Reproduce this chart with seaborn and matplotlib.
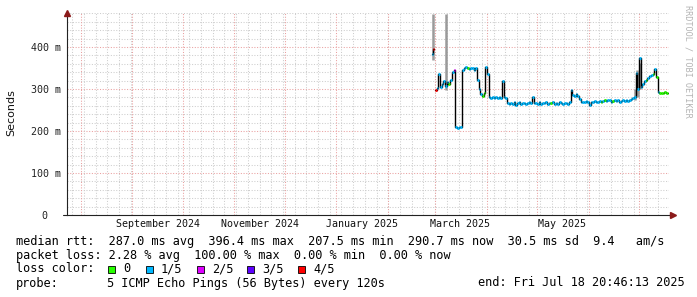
import numpy as np
import pandas as pd
import matplotlib
matplotlib.use("Agg")
import matplotlib.pyplot as plt
import matplotlib.dates as mdates
import seaborn as sns

# ---------------- data ----------------
dates = [
    "2025-02-27 00:00", "2025-02-27 16:00", "2025-02-28 08:00",
    "2025-03-01", "2025-03-02", "2025-03-03", "2025-03-04", "2025-03-05", "2025-03-06",
    "2025-03-07", "2025-03-08", "2025-03-09", "2025-03-10", "2025-03-11", "2025-03-12",
    "2025-03-13", "2025-03-14", "2025-03-15", "2025-03-16", "2025-03-17", "2025-03-18",
    "2025-03-19", "2025-03-20", "2025-03-21", "2025-03-22", "2025-03-23", "2025-03-24",
    "2025-03-25", "2025-03-26", "2025-03-27", "2025-03-28", "2025-03-29", "2025-03-30",
    "2025-03-31", "2025-04-01", "2025-04-02", "2025-04-03", "2025-04-04", "2025-04-05",
    "2025-04-06", "2025-04-07", "2025-04-08", "2025-04-09", "2025-04-10", "2025-04-11",
    "2025-04-12", "2025-04-13", "2025-04-14", "2025-04-15", "2025-04-16", "2025-04-17",
    "2025-04-18", "2025-04-19", "2025-04-20", "2025-04-21", "2025-04-22", "2025-04-23",
    "2025-04-24", "2025-04-25", "2025-04-26", "2025-04-27", "2025-04-28", "2025-04-29",
    "2025-04-30", "2025-05-01", "2025-05-02", "2025-05-03", "2025-05-04", "2025-05-05",
    "2025-05-06", "2025-05-07", "2025-05-08", "2025-05-09", "2025-05-10", "2025-05-11",
    "2025-05-12", "2025-05-13", "2025-05-14", "2025-05-15", "2025-05-16", "2025-05-17",
    "2025-05-18", "2025-05-19", "2025-05-20", "2025-05-21", "2025-05-22", "2025-05-23",
    "2025-05-24", "2025-05-25", "2025-05-26", "2025-05-27", "2025-05-28", "2025-05-29",
    "2025-05-30", "2025-05-31", "2025-06-01", "2025-06-02", "2025-06-03", "2025-06-04",
    "2025-06-05", "2025-06-06", "2025-06-07", "2025-06-08", "2025-06-09", "2025-06-10",
    "2025-06-11", "2025-06-12", "2025-06-13", "2025-06-14", "2025-06-15", "2025-06-16",
    "2025-06-17", "2025-06-18", "2025-06-19", "2025-06-20", "2025-06-21", "2025-06-22",
    "2025-06-23", "2025-06-24", "2025-06-25", "2025-06-26", "2025-06-27", "2025-06-28",
    "2025-06-29", "2025-06-30", "2025-07-01", "2025-07-02", "2025-07-03", "2025-07-04",
    "2025-07-05", "2025-07-06", "2025-07-07", "2025-07-08", "2025-07-09", "2025-07-10",
    "2025-07-11", "2025-07-12", "2025-07-13", "2025-07-14", "2025-07-15", "2025-07-16",
    "2025-07-17", "2025-07-18 12:00",
]
median_ms = [
    383, 395, 395,
    298, 302, 336, 305, 312, 318,
    308, 316, 312, 322, 340, 345,
    209, 207.5, 209, 210, 345, 349,
    352, 350, 347, 351, 349, 346,
    349, 322, 300, 288, 283, 290,
    352, 335, 282, 279, 280, 278,
    280, 279, 281, 278, 318, 280,
    279, 266, 264, 267, 265, 268,
    263, 266, 268, 265, 267, 266,
    264, 267, 268, 266, 281, 266,
    267, 265, 268, 264, 267, 266,
    268, 265, 267, 266, 268, 264,
    267, 265, 268, 266, 264, 267,
    266, 265, 268, 298, 286, 284,
    288, 283, 276, 269, 270, 268,
    271, 269, 262, 270, 268, 271,
    270, 269, 272, 270, 272, 274,
    271, 273, 275, 270, 272, 274,
    271, 273, 270, 272, 274, 271,
    273, 272, 275, 276, 279, 282,
    338, 300, 373, 305, 312, 318,
    322, 326, 330, 333, 335, 347,
    328, 292, 291, 290, 291, 292,
    291, 290,
]
loss = [
    1, 4, 4,
    4, 1, 1, 1, 1, 1,
    1, 1, 0, 1, 1, 2,
    1, 1, 1, 1, 1, 1,
    1, 0, 1, 1, 1, 1,
    1, 1, 1, 1, 0, 0,
    1, 1, 1, 1, 1, 1,
    1, 1, 1, 1, 1, 1,
    1, 1, 1, 1, 1, 1,
    1, 1, 1, 1, 1, 1,
    1, 1, 1, 1, 1, 1,
    1, 1, 1, 1, 1, 1,
    1, 1, 1, 0, 1, 1,
    1, 1, 1, 1, 1, 1,
    1, 1, 1, 1, 1, 1,
    1, 1, 1, 1, 1, 1,
    1, 1, 1, 1, 1, 1,
    1, 1, 1, 0, 1, 0,
    1, 1, 1, 1, 0, 1,
    1, 1, 1, 1, 1, 1,
    1, 1, 1, 1, 1, 1,
    1, 1, 1, 1, 1, 1,
    0, 1, 1, 1, 0, 1,
    0, 1, 0, 0, 0, 0,
    0, 0,
]
segment = [0, 0, 0] + [1] * (len(dates) - 3)

smoke_dates = ["2025-02-27 12:00", "2025-03-07 12:00", "2025-06-28 12:00",
               "2025-06-29 12:00", "2025-06-30 12:00", "2025-07-01 12:00"]
smoke_lo = [369, 298, 275, 285, 280, 300]
smoke_hi = [478, 478, 300, 345, 340, 362]

loss_labels = ["0", "1/5", "2/5", "3/5", "4/5"]
loss_colors = ["#26ff00", "#00b8ff", "#dd00ff", "#5e00ff", "#ff0000"]

stats_line1 = "median rtt:  287.0 ms avg  396.4 ms max  207.5 ms min  290.7 ms now  30.5 ms sd  9.4   am/s"
stats_line2 = "packet loss: 2.28 % avg  100.00 % max  0.00 % min  0.00 % now"
probe_text = "5 ICMP Echo Pings (56 Bytes) every 120s"
end_text = "end: Fri Jul 18 20:46:13 2025"

y_ticks = [0, 100, 200, 300, 400]
y_ticklabels = ["0", "100 m", "200 m", "300 m", "400 m"]
x_labels = ["September 2024", "November 2024", "January 2025", "March 2025", "May 2025"]
x_label_dates = ["2024-09-16", "2024-11-16", "2025-01-16", "2025-03-16", "2025-05-16"]

t_start = pd.Timestamp("2024-07-23 20:46:13")
t_end = pd.Timestamp("2025-07-18 20:46:13")

# ---------------- figure ----------------
sns.set_theme(style="white")
plt.rcParams["font.family"] = ["DejaVu Sans Mono", "DejaVu Sans"]

W, H = 697, 297
fig = plt.figure(figsize=(W / 100, H / 100), dpi=100)
fig.patch.set_facecolor("white")
ax = fig.add_axes([67 / W, (H - 215) / H, 602 / W, 202 / H])
ax.set_facecolor("white")

n = min(len(dates), len(median_ms), len(loss))
df = pd.DataFrame({
    "date": pd.to_datetime(dates[:n], format="ISO8601"),
    "median": median_ms[:n],
    "loss": loss[:n],
    "seg": segment[:n],
})
df["next"] = df.groupby("seg")["date"].shift(-1)
df["next"] = df["next"].fillna(df["date"])

# grid
ymax = 481
gray_c, red_c = "#cdcdcd", "#eaa0a0"
for v in range(20, 481, 20):
    ax.axhline(v, color=red_c if v % 100 == 0 else gray_c, lw=0.75,
               ls=(0, (1, 1.6)), zorder=0)
for d in pd.date_range("2024-07-27", "2025-07-18", freq="7D"):
    ax.axvline(mdates.date2num(d), color=gray_c, lw=0.75, ls=(0, (1, 1.6)), zorder=0)
for d in pd.date_range("2024-08-01", "2025-07-01", freq="MS"):
    ax.axvline(mdates.date2num(d), color=red_c, lw=0.75, ls=(0, (1, 1.6)), zorder=0)

# smoke
ax.vlines(mdates.date2num(pd.to_datetime(smoke_dates, format="ISO8601")), smoke_lo, smoke_hi,
          colors="#9a9a9a", lw=1.8, zorder=2)

# median (black step) + loss colored segments
sns.lineplot(data=df, x="date", y="median", units="seg", estimator=None,
             drawstyle="steps-post", color="black", lw=1.0, ax=ax,
             legend=False, zorder=3)
ax.hlines(df["median"], mdates.date2num(df["date"]), mdates.date2num(df["next"]),
          colors=[loss_colors[i] for i in df["loss"]], lw=2.0, zorder=4)

ax.set_xlim(mdates.date2num(t_start), mdates.date2num(t_end))
ax.set_ylim(0, ymax)
ax.set_xlabel("")
ax.set_ylabel("")

# axes styling
for s in ["top", "right"]:
    ax.spines[s].set_visible(False)
for s in ["left", "bottom"]:
    ax.spines[s].set_color("#222222")
    ax.spines[s].set_linewidth(0.8)

ax.set_yticks(y_ticks)
ax.set_yticklabels(y_ticklabels, fontsize=7.2, family="DejaVu Sans Mono", color="#222222")
ax.tick_params(axis="y", length=2.5, width=0.7, color="#333333", pad=3, direction="inout")
ax.yaxis.get_major_ticks()[0].set_pad(13)

ax.set_xticks(mdates.date2num(pd.to_datetime(x_label_dates)))
ax.set_xticklabels(x_labels, fontsize=7.2, family="DejaVu Sans Mono", color="#111111")
ax.tick_params(axis="x", length=0, pad=3)

# arrows
ax.plot([0], [1.0], marker="^", color="#8b1a1a", markersize=4, transform=ax.transAxes,
        clip_on=False, zorder=6)
ax.plot([1.006], [0], marker=">", color="#8b1a1a", markersize=4, transform=ax.transAxes,
        clip_on=False, zorder=6)
ax.plot([1.0, 1.006], [0, 0], color="#222222", lw=0.8, transform=ax.transAxes, clip_on=False)
ax.plot([-0.007, 0], [0, 0], color="#222222", lw=0.8, transform=ax.transAxes, clip_on=False)

# y label
fig.text(11 / W, 1 - 113 / H, "Seconds", rotation=90, ha="center", va="center",
         fontsize=8, family="DejaVu Sans", color="#111111")

# watermark
fig.text(688 / W, 1 - 5 / H, "RRDTOOL / TOBI OETIKER", rotation=270, ha="center", va="top",
         fontsize=6.1, family="DejaVu Sans Mono", color="#b4b4b4")

# legend text
fs = 8.55
def ftxt(x, y, s, **kw):
    fig.text(x / W, 1 - y / H, s, ha="left", va="center", fontsize=fs,
             family="DejaVu Sans Mono", color="#000000", **kw)

ftxt(16, 241, stats_line1)
ftxt(16, 255, stats_line2)
ftxt(16, 269, "loss color:")
box_x = [108, 146, 197, 247, 298]
for bx, lab, col in zip(box_x, loss_labels, loss_colors):
    fig.patches.append(plt.Rectangle((bx / W, 1 - 273 / H), 7 / W, 7 / H,
                                     transform=fig.transFigure, facecolor=col,
                                     edgecolor="#000000", lw=0.6))
    ftxt(bx + 15, 269, lab)
ftxt(16, 283, "probe:")
ftxt(107, 283, probe_text)
ftxt(478, 283, end_text)

fig.savefig("out.png", dpi=100, facecolor="white")
